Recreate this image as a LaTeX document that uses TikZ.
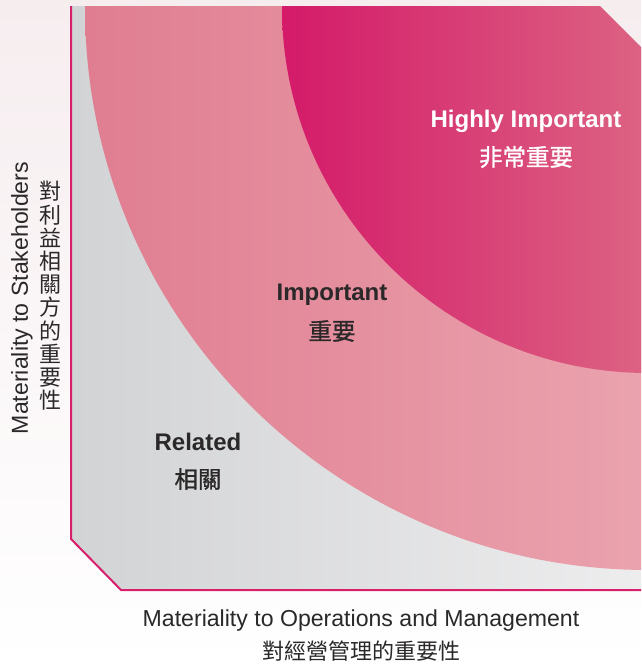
\documentclass[tikz,border=0pt]{standalone}
\usepackage{fontspec}
\setmainfont{Liberation Sans}
\newfontfamily\cjk{Noto Sans CJK TC}
\newfontfamily\cjkmid[FakeBold=1.2]{Noto Sans CJK TC}
\usepackage{xcolor}
\usetikzlibrary{calc}

\definecolor{bgtop}{HTML}{F6EDEF}
\definecolor{grayL}{HTML}{D2D3D5}
\definecolor{grayR}{HTML}{EDEDEE}
\definecolor{pinkL}{HTML}{E07D91}
\definecolor{pinkR}{HTML}{EAA3AE}
\definecolor{magL}{HTML}{D41A69}
\definecolor{magR}{HTML}{DC6282}
\definecolor{edge}{HTML}{D81F6C}
\definecolor{ink}{HTML}{2A2829}

\begin{document}
\begin{tikzpicture}[x=1pt, y=-1pt,
        label/.style={font=\fontsize{24}{28}\selectfont\bfseries, text=ink, inner sep=0pt},
        labelzh/.style={font=\fontsize{23.5}{26}\selectfont\cjkmid, text=ink, inner sep=0pt},
        axis/.style={font=\fontsize{23.1}{26}\selectfont, text=ink, inner sep=0pt},
        axiszh/.style={font=\fontsize{22}{23.2}\selectfont\cjk, text=ink, inner sep=0pt, align=center}]
        % Background
        \shade[top color=bgtop, bottom color=white] (0,0) rectangle (641,665);
        \useasboundingbox (0,0) rectangle (641,665);
        
        % Panel with the rings, clipped to the cut-corner frame
        \begin{scope}
            \clip (71,6) -- (600,6) -- (641,47) -- (641,590) -- (121,590) -- (71,539) -- cycle;
            \shade[left color=grayL, right color=grayR] (71,6) rectangle (641,590);
            \begin{scope}
                \clip (648,7) circle[radius=563pt];
                \shade[left color=pinkL, right color=pinkR] (85,6) rectangle (641,590);
            \end{scope}
            \begin{scope}
                \clip (648,7) circle[radius=366pt];
                \shade[left color=magL, right color=magR] (282,6) rectangle (641,373);
            \end{scope}
        \end{scope}
        
        % Frame on the left and bottom
        \draw[edge, line width=2pt, line join=miter] (71,6) -- (71,539) -- (121,590) -- (641,590);
        
        % Labels of the rings
        \node[label, text=white] (highly) at (526,121) {Highly Important};
        \node[labelzh, text=white] (highlyzh) at (526,157) {非常重要};
        \node[label] (important) at (332,295) {Important};
        \node[labelzh] (importantzh) at (332,331) {重要};
        \node[label] (related) at (198,442) {Related};
        \node[labelzh] (relatedzh) at (198,479) {相關};
        
        % Axis titles
        \node[axis] (xlabel) at (361,621) {Materiality to Operations and Management};
        \node[axiszh] (xlabelzh) at (361,651) {對經營管理的重要性};
        \node[axis, rotate=90] (ylabel) at (22,298) {Materiality to Stakeholders};
        \node[axiszh] (ylabelzh) at (50,296) {對\\利\\益\\相\\關\\方\\的\\重\\要\\性};
    \end{tikzpicture}
\end{document}
